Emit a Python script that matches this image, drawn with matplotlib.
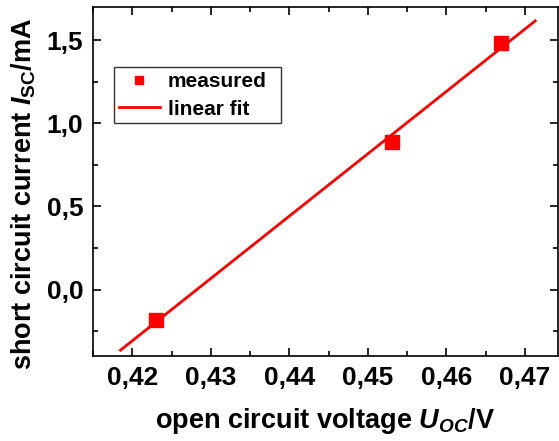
import matplotlib
matplotlib.use("Agg")
import matplotlib.pyplot as plt
import numpy as np
from matplotlib.ticker import MultipleLocator, FuncFormatter

plt.rcParams["font.family"] = "Liberation Sans"
plt.rcParams["font.weight"] = "bold"
plt.rcParams["axes.labelweight"] = "bold"
plt.rcParams["mathtext.fontset"] = "custom"
plt.rcParams["mathtext.rm"] = "Liberation Sans:bold"
plt.rcParams["mathtext.bf"] = "Liberation Sans:bold"
plt.rcParams["mathtext.it"] = "Liberation Sans:italic:bold"

# measured data
u_oc = [0.4230, 0.4531, 0.4669]
i_sc = [-0.181, 0.886, 1.484]
fit_range = [0.4185, 0.4713]

x_ticks = [0.42, 0.43, 0.44, 0.45, 0.46, 0.47]
y_ticks = [0.0, 0.5, 1.0, 1.5]

red = "#ff0000"

fig = plt.figure(figsize=(5.59, 4.41), dpi=100)
ax = fig.add_axes([93 / 559, 1 - 356 / 441, 465 / 559, 349 / 441])

slope, icpt = np.polyfit(u_oc, i_sc, 1)
xf = np.array(fit_range)
ax.plot(xf, slope * xf + icpt, color=red, lw=2, label="linear fit")
ax.plot(u_oc, i_sc, "s", color=red, ms=9.5, label="measured")

ax.set_xlim(0.415, 0.4742)
ax.set_ylim(-0.4, 1.7)
ax.set_xticks(x_ticks)
ax.set_yticks(y_ticks)
ax.xaxis.set_minor_locator(MultipleLocator(0.005))
ax.yaxis.set_minor_locator(MultipleLocator(0.25))
ax.xaxis.set_major_formatter(FuncFormatter(lambda v, p: f"{v:.2f}".replace(".", ",")))
ax.yaxis.set_major_formatter(FuncFormatter(lambda v, p: f"{v:.1f}".replace(".", ",")))

ax.tick_params(which="both", direction="in", top=True, right=True, width=1.2)
ax.tick_params(which="major", length=6, labelsize=19, pad=7)
ax.tick_params(which="minor", length=3.5)
for s in ax.spines.values():
    s.set_linewidth(1.2)

ax.set_xlabel(r"open circuit voltage $\mathit{U}_{\mathit{OC}}$/V", fontsize=19.5, labelpad=12)
ax.set_ylabel(r"short circuit current $\mathit{I}_{\mathrm{SC}}$/mA", fontsize=19.5)
ax.yaxis.set_label_coords(-0.118, 0.466)

h, l = ax.get_legend_handles_labels()
leg = ax.legend(h[::-1], l[::-1], loc="upper left", mode="expand",
                bbox_to_anchor=(0.0452, 0.827, 0.359, 0),
                fontsize=15, frameon=True, fancybox=False, edgecolor="black",
                markerscale=0.6, handlelength=2.0, handletextpad=0.35,
                borderpad=0.22, labelspacing=0.42, borderaxespad=0)
leg.get_frame().set_linewidth(1.0)

fig.savefig("out.png", dpi=100)
